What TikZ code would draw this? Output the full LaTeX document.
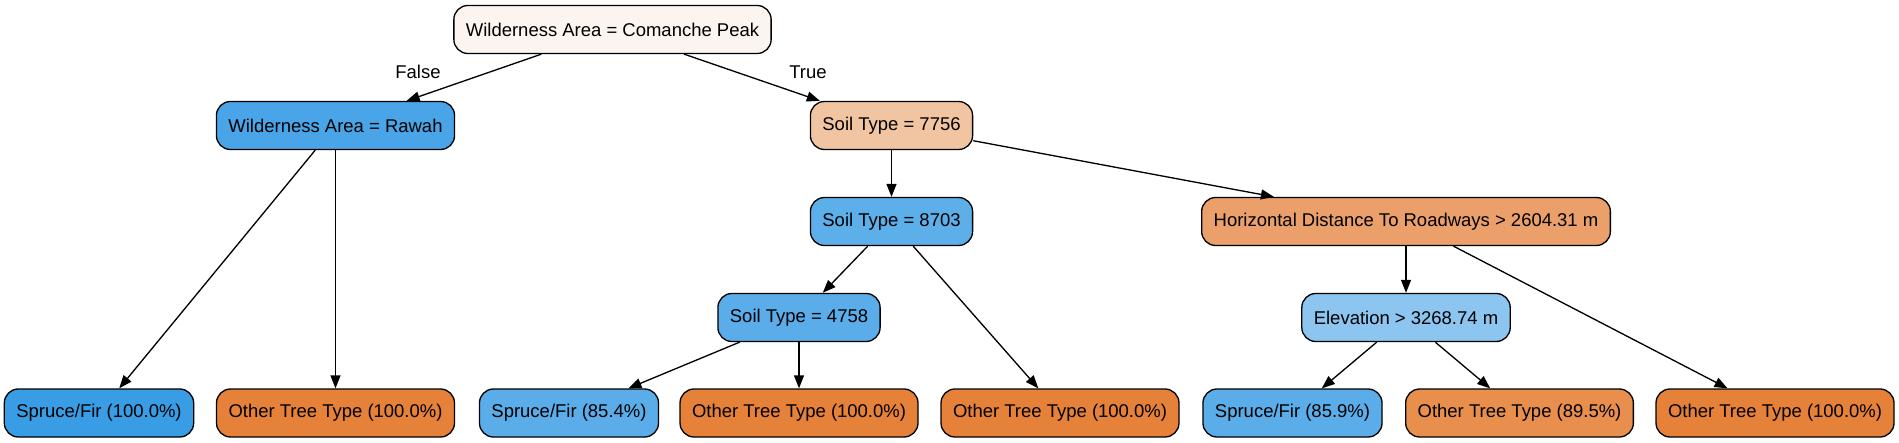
\documentclass[tikz,border=0pt]{standalone}
\usepackage{fontspec}
\setmainfont{Liberation Sans}
\usetikzlibrary{shapes,arrows.meta}
\definecolor{rootfill}{HTML}{FCF5EF}
\definecolor{rawahfill}{HTML}{49A5E7}
\definecolor{soilafill}{HTML}{F2C5A2}
\definecolor{soilbfill}{HTML}{5DAFEA}
\definecolor{roadfill}{HTML}{EBA06B}
\definecolor{soilcfill}{HTML}{5AADE9}
\definecolor{elevfill}{HTML}{8BC5F0}
\definecolor{sprucefill}{HTML}{399DE5}
\definecolor{otherfill}{HTML}{E58139}
\definecolor{sprucelight}{HTML}{5AADE9}
\definecolor{otherlight}{HTML}{E88F4E}

\begin{document}
\begin{tikzpicture}
[x=0.5pt,y=-0.5pt]
\tikzstyle{every node}=[font=\fontsize{9.24}{11}\selectfont]
\tikzstyle{split}=[draw,rounded corners=7pt,line width=0.66pt,inner xsep=6pt,minimum height=24pt]
\tikzstyle{edge}=[line width=0.66pt,-{Triangle[length=6.5pt,width=5pt]}]
\useasboundingbox (0,0) rectangle (1899,443);
\node[split,fill=rootfill] (comanche) at (612.5,29.5) {Wilderness Area = Comanche Peak};
\node[split,fill=rawahfill] (rawah) at (335.5,125.5) {Wilderness Area = Rawah};
\node[split,fill=soilafill] (soil7756) at (891.5,125.5) {Soil Type = 7756};
\node[split,fill=soilbfill] (soil8703) at (891.5,221.5) {Soil Type = 8703};
\node[split,fill=roadfill] (roads) at (1406,221.5) {Horizontal Distance To Roadways > 2604.31 m};
\node[split,fill=soilcfill] (soil4758) at (799,317.5) {Soil Type = 4758};
\node[split,fill=elevfill] (elev) at (1406,317.5) {Elevation > 3268.74 m};
\node[split,fill=sprucefill] (leaf1) at (99,413) {Spruce/Fir (100.0\%)};
\node[split,fill=otherfill] (leaf2) at (335.5,413) {Other Tree Type (100.0\%)};
\node[split,fill=sprucelight] (leaf3) at (569,413) {Spruce/Fir (85.4\%)};
\node[split,fill=otherfill] (leaf4) at (799,413) {Other Tree Type (100.0\%)};
\node[split,fill=otherfill] (leaf5) at (1060,413) {Other Tree Type (100.0\%)};
\node[split,fill=sprucelight] (leaf6) at (1292.5,413) {Spruce/Fir (85.9\%)};
\node[split,fill=otherlight] (leaf7) at (1519.5,413) {Other Tree Type (89.5\%)};
\node[split,fill=otherfill] (leaf8) at (1775,413) {Other Tree Type (100.0\%)};
\node (falselabel) at (418,72) {False};
\node (truelabel) at (808,72) {True};
\draw[edge] (comanche) -- (rawah);
\draw[edge] (comanche) -- (soil7756);
\draw[edge] (rawah) -- (leaf1);
\draw[edge] (rawah) -- (leaf2);
\draw[edge] (soil7756) -- (soil8703);
\draw[edge] (soil7756) -- (roads);
\draw[edge] (soil8703) -- (soil4758);
\draw[edge] (soil8703) -- (leaf5);
\draw[edge] (soil4758) -- (leaf3);
\draw[edge] (soil4758) -- (leaf4);
\draw[edge] (roads) -- (elev);
\draw[edge] (roads) -- (leaf8);
\draw[edge] (elev) -- (leaf6);
\draw[edge] (elev) -- (leaf7);
\end{tikzpicture}
\end{document}
